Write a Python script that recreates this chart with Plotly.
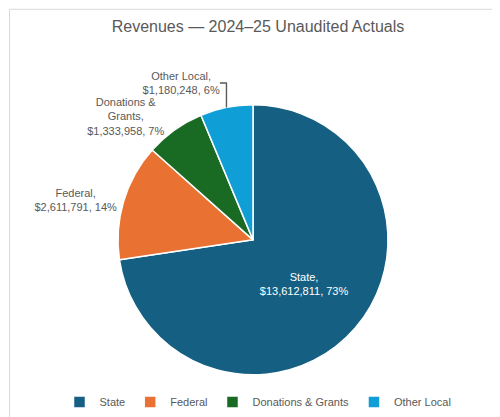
import plotly.graph_objects as go

categories = ["State", "Federal", "Donations & Grants", "Other Local"]
values = [13612811, 2611791, 1333958, 1180248]
percents = ["73%", "14%", "7%", "6%"]
label_names = ["State,", "Federal,", "Donations &<br>Grants,", "Other Local,"]
colors = ["#156082", "#E97132", "#196B24", "#0F9ED5"]

texts = []
for n, v, p in zip(label_names, values, percents):
    texts.append(f"{n}<br>${v:,}, {p}")

fig = go.Figure(go.Pie(
    labels=categories, values=values, text=texts,
    textinfo="text", sort=False, direction="clockwise", rotation=0,
    marker=dict(colors=colors, line=dict(color="white", width=1.5)),
    textposition=["inside", "outside", "outside", "outside"],
    insidetextfont=dict(color="white", size=11),
    outsidetextfont=dict(color="#595959", size=11),
    insidetextorientation="horizontal",
    domain=dict(x=[0.22, 0.76], y=[0.12, 0.768]),
    hoverinfo="label+value+percent",
))
fig.update_layout(
    width=500, height=417,
    margin=dict(l=0, r=0, t=0, b=0),
    paper_bgcolor="white",
    font=dict(family="Liberation Sans, Arial", color="#595959"),
    title=dict(text="Revenues — 2024–25 Unaudited Actuals", x=0.5, xanchor="center",
               y=0.955, yanchor="middle", font=dict(size=16, color="#595959")),
    legend=dict(orientation="h", x=0.5, xanchor="center", y=0.055, yanchor="middle",
                itemwidth=30, font=dict(size=11, color="#595959")),
    shapes=[dict(type="rect", xref="paper", yref="paper", x0=0.003, y0=0.004, x1=0.996, y1=0.997,
                 line=dict(color="#D9D9D9", width=1))],
)
fig.write_html("out.html")
